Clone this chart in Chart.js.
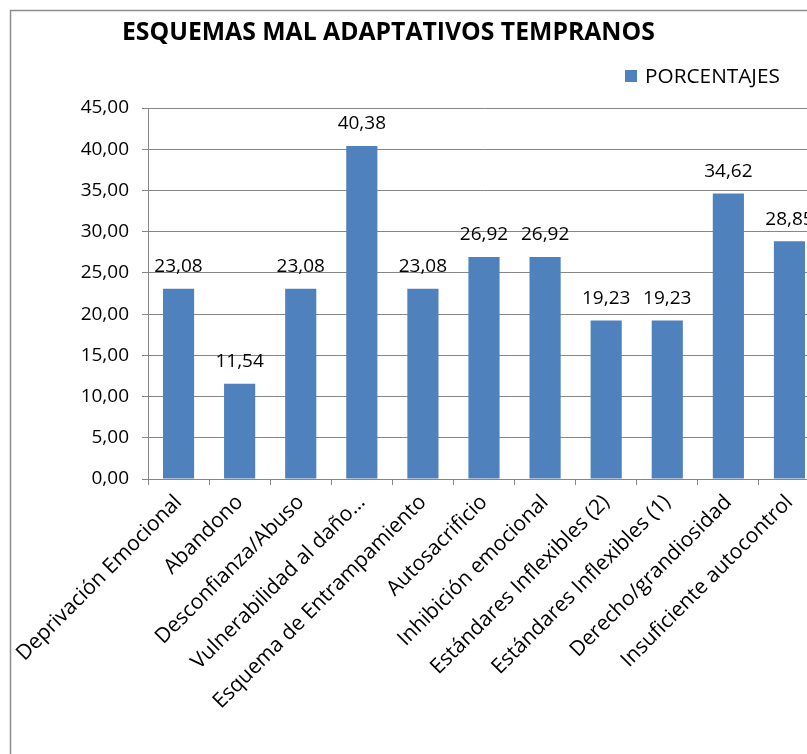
<!DOCTYPE html>
<html>
<head>
<meta charset="utf-8">
<script src="https://cdn.jsdelivr.net/npm/chart.js@4/dist/chart.umd.min.js"></script>
<style>
  html, body { margin: 0; padding: 0; background: #ffffff; overflow: hidden; width: 807px; height: 754px; }
  canvas { display: block; }
</style>
</head>
<body>
<canvas id="c" width="830" height="754"></canvas>
<script>
// ---- data ----
const chartTitle = 'ESQUEMAS MAL ADAPTATIVOS TEMPRANOS';
const seriesName = 'PORCENTAJES';
const categories = [
  'Deprivación Emocional',
  'Abandono',
  'Desconfianza/Abuso',
  'Vulnerabilidad al daño…',
  'Esquema de Entrampamiento',
  'Autosacrificio',
  'Inhibición emocional',
  'Estándares Inflexibles (2)',
  'Estándares Inflexibles (1)',
  'Derecho/grandiosidad',
  'Insuficiente autocontrol'
];
const percentages = [23.08, 11.54, 23.08, 40.38, 23.08, 26.92, 26.92, 19.23, 19.23, 34.62, 28.85];
const yMin = 0, yMax = 45, yStep = 5;

// ---- style ----
const BAR = '#4F81BD';
const GRID = '#868686';
const FONT = 'Open Sans';
const fmt = v => Number(v).toFixed(2).replace('.', ',');

function fitSize(ctx, text, weight, family, target) {
  ctx.save();
  ctx.font = weight + ' 100px "' + family + '"';
  const w = ctx.measureText(text).width;
  ctx.restore();
  return 100 * target / w;
}

const framePlugin = {
  id: 'frame',
  beforeDraw(chart) {
    const ctx = chart.ctx;
    ctx.save();
    ctx.fillStyle = '#ffffff';
    ctx.fillRect(0, 0, chart.width, chart.height);
    ctx.strokeStyle = '#8c8c8c';
    ctx.lineWidth = 1.5;
    ctx.strokeRect(10.5, 10.5, chart.width + 50, chart.height + 50);
    ctx.restore();
  }
};

const headerPlugin = {
  id: 'header',
  afterDraw(chart) {
    const ctx = chart.ctx;
    ctx.save();
    // title
    const ts = fitSize(ctx, chartTitle, 'bold', FONT, 533);
    ctx.font = 'bold ' + ts + 'px "' + FONT + '"';
    ctx.fillStyle = '#000000';
    ctx.textAlign = 'left';
    ctx.textBaseline = 'alphabetic';
    ctx.fillText(chartTitle, 122, 39.5);
    // legend
    const ds = chart.data.datasets[0];
    ctx.fillStyle = ds.backgroundColor;
    ctx.fillRect(625, 70, 12, 12);
    const ls = fitSize(ctx, ds.label, 'normal', FONT, 135);
    ctx.font = ls + 'px "' + FONT + '"';
    ctx.fillStyle = '#000000';
    ctx.fillText(ds.label, 645, 82.5);
    ctx.restore();
  }
};

const valueLabels = {
  id: 'valueLabels',
  afterDatasetsDraw(chart) {
    const ctx = chart.ctx;
    ctx.save();
    ctx.font = '19px "' + FONT + '"';
    ctx.fillStyle = '#000000';
    ctx.textAlign = 'center';
    ctx.textBaseline = 'middle';
    chart.getDatasetMeta(0).data.forEach((bar, i) => {
      ctx.fillText(fmt(chart.data.datasets[0].data[i]), bar.x, bar.y - 22);
    });
    ctx.restore();
  }
};

new Chart(document.getElementById('c'), {
  type: 'bar',
  data: {
    labels: categories,
    datasets: [{
      label: seriesName,
      data: percentages,
      backgroundColor: BAR,
      borderWidth: 0,
      barPercentage: 0.51,
      categoryPercentage: 1.0
    }]
  },
  plugins: [framePlugin, valueLabels, headerPlugin],
  options: {
    responsive: false,
    animation: false,
    devicePixelRatio: 1,
    layout: { padding: { top: 108, left: 0, right: 10, bottom: 0 } },
    plugins: {
      legend: { display: false },
      title: { display: false },
      tooltip: { enabled: false }
    },
    scales: {
      x: {
        grid: { display: true, drawOnChartArea: false, drawTicks: true, tickLength: 6, offset: true, color: GRID, lineWidth: 1 },
        border: { display: true, color: GRID, width: 1 },
        ticks: {
          autoSkip: false, minRotation: 45, maxRotation: 45, padding: 5,
          color: '#000000', font: { family: FONT, size: 21 }
        },
        afterFit(scale) { scale.height = 754 - 479; }
      },
      y: {
        min: yMin, max: yMax,
        grid: { color: GRID, lineWidth: 1, tickLength: 6, drawTicks: true },
        border: { display: true, color: GRID, width: 1 },
        ticks: {
          stepSize: yStep, padding: 13, color: '#000000',
          font: { family: FONT, size: 19 },
          callback: v => fmt(v)
        },
        afterFit(scale) { scale.width = 148; }
      }
    }
  }
});
</script>
</body>
</html>
